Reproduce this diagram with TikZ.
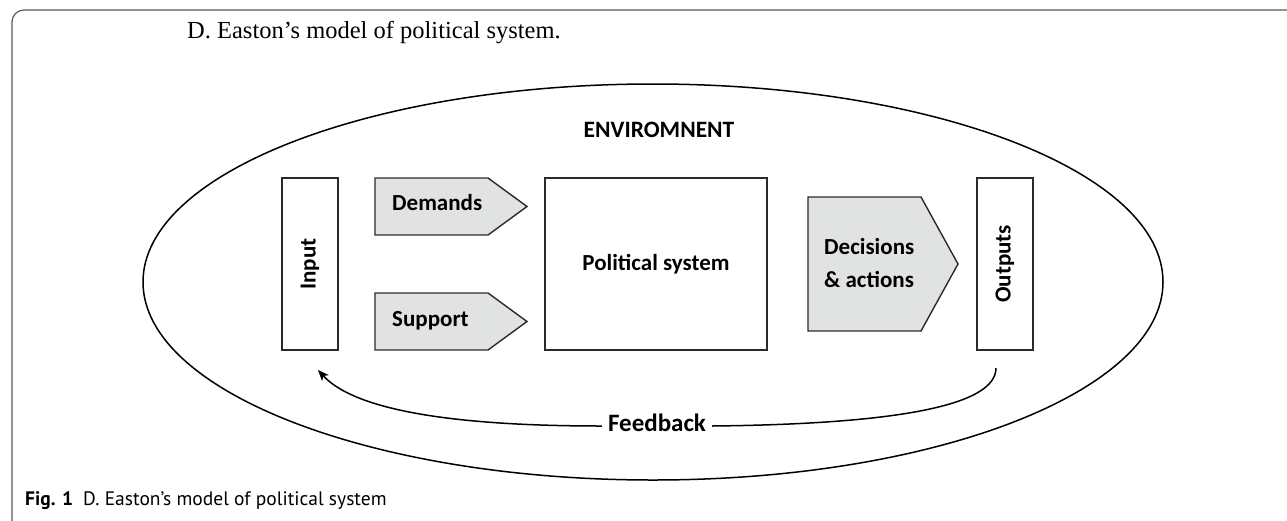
\documentclass[tikz,border=0pt]{standalone}
\usepackage{fontspec}
\setmainfont{Liberation Serif}
\newfontfamily\lblfont{Carlito}
\newfontfamily\capfont{PT Sans}
\usetikzlibrary{arrows.meta}
\definecolor{boxfill}{HTML}{E1E2E2}
\definecolor{edge}{HTML}{2A2A2A}
\tikzset{
  box/.style={draw=edge, line width=1.4pt, minimum width=56pt, minimum height=172pt, inner sep=0pt},
  bigbox/.style={draw=edge, line width=1.4pt, minimum width=222pt, minimum height=172pt, inner sep=0pt},
  arrowshape/.style={draw=edge, fill=boxfill, line width=1.4pt, line join=miter},
  lbl/.style={font=\lblfont\bfseries\fontsize{23}{27}\selectfont, inner sep=0pt},
  env/.style={draw=black, line width=1.5pt},
  fb/.style={draw=black, line width=1.5pt},
}
\begin{document}
\begin{tikzpicture}[x=1pt,y=-1pt]
\path[use as bounding box] (0,0) rectangle (1287,520);
% frame
\draw[line width=1.2pt, draw=black!65, rounded corners=12pt] (12,530) -- (12,10) -- (1300,10);
% title
\node[anchor=base west, inner sep=0pt, font=\fontsize{24.5}{28}\selectfont] (title) at (187,38) {D. Easton’s model of political system.};
% environment ellipse
\draw[env] (653,282) ellipse [x radius=510, y radius=198];
\node[lbl, font=\lblfont\bfseries\fontsize{23.5}{27}\selectfont, anchor=base] (envlbl) at (659,137) {ENVIROMNENT};
% boxes
\node[box] (input) at (310,264) {};
\node[lbl, rotate=90] at (input.center) {Input};
\node[bigbox] (polsys) at (656,264) {};
\node[lbl] at (polsys.center) {Political system};
\node[box] (outputs) at (1005,264) {};
\node[lbl, rotate=90] at (outputs.center) {Outputs};
% arrow shapes
\draw[arrowshape] (375,178) -- (488,178) -- (527,206.5) -- (488,235) -- (375,235) -- cycle;
\node[lbl, anchor=base west] (demands) at (392,210) {Demands};
\draw[arrowshape] (375,293) -- (488,293) -- (527,321.5) -- (488,350) -- (375,350) -- cycle;
\node[lbl, anchor=base west] (support) at (392,326) {Support};
\draw[arrowshape] (808,197) -- (921,197) -- (958,264) -- (921,331) -- (808,331) -- cycle;
\node[lbl, anchor=base west] (dec1) at (824,254) {Decisions};
\node[lbl, anchor=base west] (dec2) at (824,287) {\&~actions};
% feedback
\node[lbl, font=\lblfont\bfseries\fontsize{25}{29}\selectfont, anchor=base, inner xsep=6pt] (feedback) at (657,431) {Feedback};
\coordinate (fbR) at (996,368);
\coordinate (fbL) at (318,370);
\draw[fb] (fbR) .. controls (996,405) and (900,424) .. (feedback.east |- 0,426);
\draw[fb, -{Stealth[length=11pt,width=9pt,inset=3pt]}] (feedback.west |- 0,426) .. controls (430,426) and (350,405) .. (fbL);
% caption
\node[anchor=base west, inner sep=0pt, font=\capfont\fontsize{19.5}{23}\selectfont] (caption) at (25,505) {\textbf{Fig. 1}\hspace{10pt}D. Easton’s model of political system};
\end{tikzpicture}
\end{document}
